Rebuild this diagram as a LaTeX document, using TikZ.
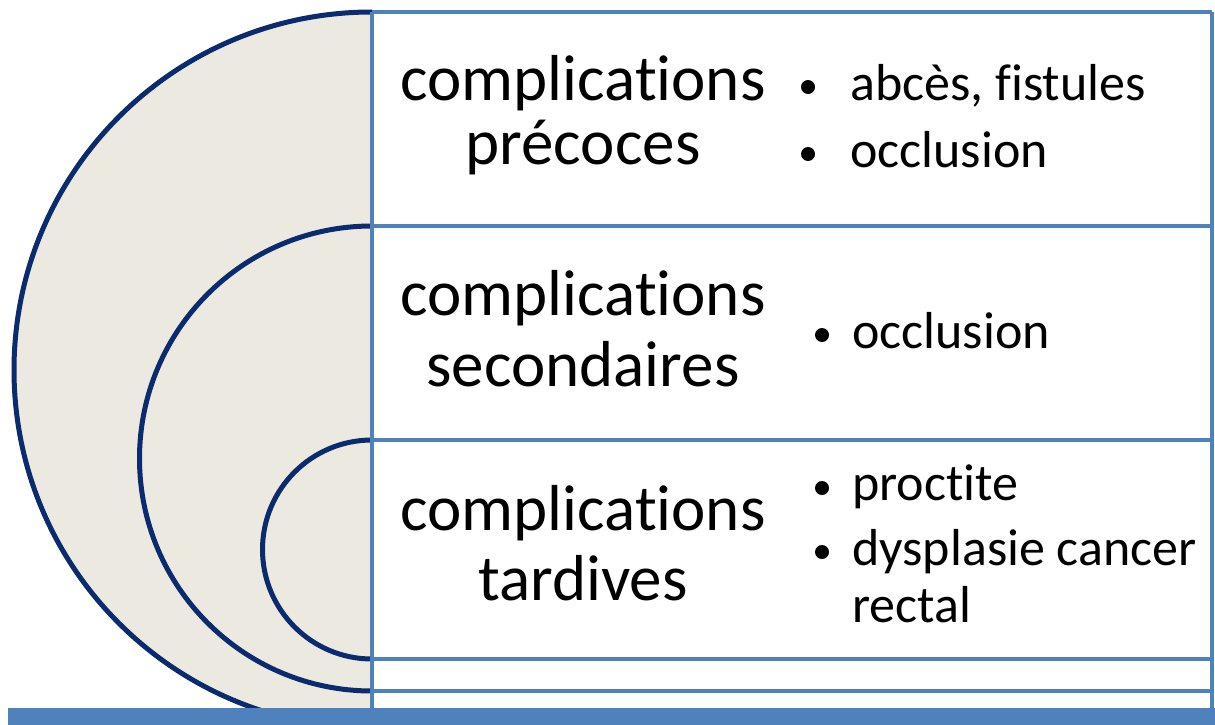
\documentclass[tikz,border=0pt]{standalone}
\usepackage{fontspec}
\setmainfont[Ligatures=NoCommon]{Carlito}
\definecolor{boxblue}{HTML}{4F81BD}
\definecolor{navy}{HTML}{0C2A6E}
\definecolor{beige}{HTML}{ECE9E0}
\begin{document}
\begin{tikzpicture}[x=1pt,y=-1pt,
  big/.style={font=\fontsize{65}{65}\selectfont, anchor=base, inner sep=0pt},
  small/.style={font=\fontsize{52}{52}\selectfont, anchor=base west, inner sep=0pt},
  boxline/.style={draw=boxblue, line width=3.5pt},
  arcline/.style={draw=navy, line width=5pt},
  bulletdot/.style={fill=black}]
\useasboundingbox (0,0) rectangle (1215,725);
\begin{scope}
  \clip (0,0) rectangle (372,708);
  \fill[beige] (372,370) circle[radius=358];
  \draw[arcline] (372,370) circle[radius=358];
  \draw[arcline] (372,458.5) circle[radius=232.5];
  \draw[arcline] (372,549.5) circle[radius=109.5];
\end{scope}
% table lines
\draw[boxline] (372,12) -- (1212,12);
\draw[boxline] (372,226) -- (1212,226);
\draw[boxline] (372,440) -- (1212,440);
\draw[boxline] (372,659) -- (1212,659);
\draw[boxline] (372,691) -- (1212,691);
\draw[boxline] (372,12) -- (372,708);
\draw[boxline] (1212,12) -- (1212,708);
\fill[boxblue] (8,708) rectangle (1215,725);
% left texts
\node[big] (t1a) at (583,100) {complications};
\node[big] (t1b) at (583,164) {précoces};
\node[big] (t2a) at (583,315) {complications};
\node[big] (t2b) at (583,386) {secondaires};
\node[big] (t3a) at (583,530) {complications};
\node[big] (t3b) at (583,600) {tardives};
% right texts
\node[small] (r1a) at (850,100) {abcès, fistules};
\node[small] (r1b) at (850,167) {occlusion};
\node[small] (r2a) at (852,348) {occlusion};
\node[small] (r3a) at (852,500) {proctite};
\node[small] (r3b) at (852,565) {dysplasie cancer};
\node[small] (r3c) at (852,622) {rectal};
% bullets
\fill[bulletdot] (808,87) circle[radius=7];
\fill[bulletdot] (808,154) circle[radius=7];
\fill[bulletdot] (822,335) circle[radius=7];
\fill[bulletdot] (822,488) circle[radius=7];
\fill[bulletdot] (822,552) circle[radius=7];
\end{tikzpicture}
\end{document}
